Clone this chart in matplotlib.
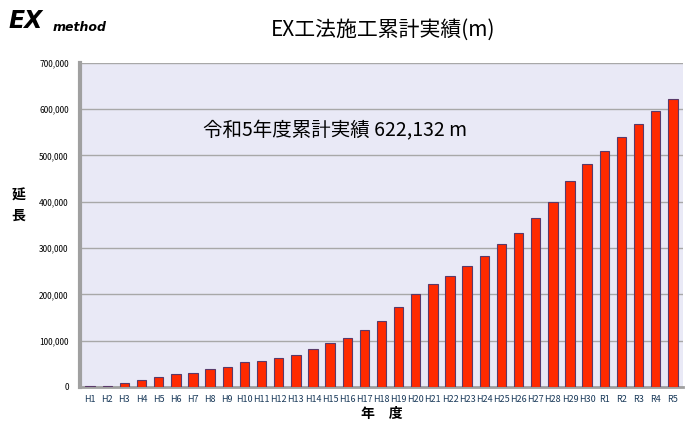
import matplotlib
matplotlib.use("Agg")
import matplotlib.pyplot as plt
from matplotlib.ticker import FuncFormatter

years = ["H1","H2","H3","H4","H5","H6","H7","H8","H9","H10","H11","H12","H13","H14","H15","H16","H17","H18","H19","H20","H21","H22","H23","H24","H25","H26","H27","H28","H29","H30","R1","R2","R3","R4","R5"]
values = [1000,3000,8000,15000,22000,27000,31000,38000,44000,53000,56000,62000,70000,81000,94000,106000,122000,143000,173000,201000,222000,240000,262000,282000,308000,332000,365000,399000,444000,482000,510000,540000,568000,596000,622132]
yticks = [0,100000,200000,300000,400000,500000,600000,700000]

plt.rcParams["font.family"] = ["Noto Sans CJK JP"]
fig = plt.figure(figsize=(7,4.28), dpi=100)
ax = fig.add_axes([0.114, 0.096, 0.862, 0.757])
ax.set_facecolor("#e9e9f6")
x = list(range(len(years)))
ax.bar(x, values, width=0.55, color="#ff2a00", edgecolor="#5a3a6a", linewidth=0.8, zorder=3)
ax.set_xlim(-0.6, len(years)-0.4)
ax.set_ylim(0, 700000)
ax.set_yticks(yticks)
ax.yaxis.set_major_formatter(FuncFormatter(lambda v,p: f"{int(v):,}"))
ax.set_xticks(x)
ax.set_xticklabels(years, fontsize=6.5, color="#1a3a5a")
ax.tick_params(axis="y", labelsize=6, length=0, pad=8)
ax.tick_params(axis="x", length=0, pad=6)
ax.grid(axis="y", color="#a8a8a8", linewidth=1, zorder=0)
for s in ["top","right"]:
    ax.spines[s].set_visible(False)
ax.spines["left"].set_color("#a0a0a0"); ax.spines["left"].set_linewidth(3)
ax.spines["bottom"].set_color("#a0a0a0"); ax.spines["bottom"].set_linewidth(2)
ax.set_xlabel("年　度", fontsize=10, fontweight="bold", labelpad=2)
fig.text(0.026, 0.52, "延\n長", fontsize=10, fontweight="bold", ha="center", va="center", linespacing=1.6)
fig.text(0.547, 0.93, "EX工法施工累計実績(m)", fontsize=15, ha="center", va="center")
fig.text(0.29, 0.695, "令和5年度累計実績 622,132 m", fontsize=14, ha="left", va="center")
fig.text(0.012, 0.95, "EX", fontsize=17, fontweight="black", style="italic", family="DejaVu Sans", va="center")
fig.text(0.075, 0.935, "method", fontsize=9, fontweight="bold", style="italic", family="DejaVu Sans", va="center")
fig.savefig("out.png", dpi=100)
